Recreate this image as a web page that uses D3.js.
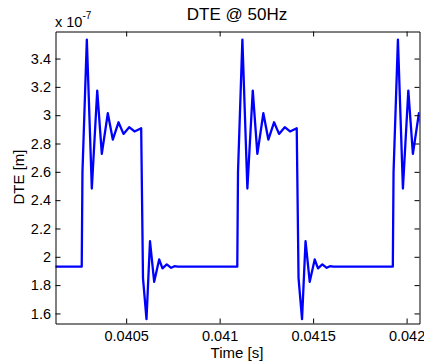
<!DOCTYPE html>
<html>
<head>
<meta charset="utf-8">
<script src="https://cdn.jsdelivr.net/npm/d3@7"></script>
<style>
  html, body { margin: 0; padding: 0; background: #fff; }
  svg { display: block; font-family: "Liberation Sans", Arial, Helvetica, sans-serif; }
</style>
</head>
<body>
<svg id="chart" width="424" height="362"></svg>
<script>
// Sample times [s] of the simulated DTE trace
const timeSec = [
  0.040100, 0.0402623, 0.0402662, 0.0402896, 0.0403163, 0.0403452, 0.0403697,
  0.0404018, 0.0404285, 0.0404590, 0.0404857, 0.0405162, 0.0405445, 0.0405803,
  0.0405900, 0.0406087, 0.0406274, 0.0406498, 0.0406765, 0.0406942, 0.0407172,
  0.0407407, 0.0407583, 0.0407759,
  0.0410943, 0.0410982, 0.0411216, 0.0411483, 0.0411772, 0.0412017, 0.0412338,
  0.0412605, 0.0412910, 0.0413177, 0.0413482, 0.0413765, 0.0414123, 0.0414220,
  0.0414407, 0.0414594, 0.0414818, 0.0415085, 0.0415262, 0.0415492, 0.0415727,
  0.0415903, 0.0416079,
  0.0419263, 0.0419302, 0.0419536, 0.0419803, 0.0420092, 0.0420337, 0.0420658,
  0.0420925
];

// DTE values in units of 1e-7 m
const dteValues = [
  1.930, 1.930, 2.600, 3.534, 2.482, 3.174, 2.727,
  3.014, 2.828, 2.950, 2.868, 2.915, 2.885, 2.908,
  1.850, 1.560, 2.110, 1.823, 1.981, 1.918, 1.946,
  1.922, 1.934, 1.930,
  1.930, 2.600, 3.534, 2.482, 3.174, 2.727, 3.014,
  2.828, 2.950, 2.868, 2.915, 2.885, 2.908, 1.850,
  1.560, 2.110, 1.823, 1.981, 1.918, 1.946, 1.922,
  1.934, 1.930,
  1.930, 2.600, 3.534, 2.482, 3.174, 2.727, 3.014,
  2.828
];

const xTicks = [0.0405, 0.041, 0.0415, 0.042];
const xTickLabels = ["0.0405", "0.041", "0.0415", "0.042"];
const yTicks = [1.6, 1.8, 2.0, 2.2, 2.4, 2.6, 2.8, 3.0, 3.2, 3.4];
const yTickLabels = ["1.6", "1.8", "2", "2.2", "2.4", "2.6", "2.8", "3", "3.2", "3.4"];
const xDomain = [0.040122, 0.042069];
const yDomain = [1.529, 3.591];

const titleText = "DTE @ 50Hz";
const xLabelText = "Time [s]";
const yLabelText = "DTE [m]";

const svg = d3.select("#chart");
const margin = { left: 55, top: 31, right: 5, bottom: 39 };
const W = 424, H = 362;
const iw = W - margin.left - margin.right;
const ih = H - margin.top - margin.bottom;

const x = d3.scaleLinear().domain(xDomain).range([0, iw]);
const y = d3.scaleLinear().domain(yDomain).range([ih, 0]);

const g = svg.append("g").attr("transform", `translate(${margin.left + 0.5},${margin.top + 0.5})`);

g.append("defs").append("clipPath").attr("id", "plotClip")
  .append("rect").attr("x", 0).attr("y", 0).attr("width", iw).attr("height", ih);

const points = timeSec.map((t, i) => [t, dteValues[i]]);
const line = d3.line().x(d => x(d[0])).y(d => y(d[1]));

g.append("path")
  .datum(points)
  .attr("clip-path", "url(#plotClip)")
  .attr("fill", "none")
  .attr("stroke", "#0000ff")
  .attr("stroke-width", 2.3)
  .attr("stroke-linejoin", "round")
  .attr("d", line);

// Axes with inward ticks on all four sides (boxed axes)
const tickLen = 5;
const styleAxis = sel => {
  sel.select(".domain").attr("stroke", "#000").attr("stroke-width", 1);
  sel.selectAll(".tick line").attr("stroke", "#000").attr("stroke-width", 1);
  sel.selectAll("text").attr("fill", "#000").attr("font-size", "14.5px")
    .attr("font-family", "'Liberation Sans', Arial, sans-serif");
};

const fmtX = d => xTickLabels[xTicks.indexOf(d)];
const fmtY = d => yTickLabels[yTicks.indexOf(d)];

g.append("g").attr("transform", `translate(0,${ih})`)
  .call(d3.axisBottom(x).tickValues(xTicks).tickFormat(fmtX)
    .tickSizeInner(-tickLen).tickSizeOuter(0).tickPadding(7.5))
  .call(styleAxis);

g.append("g")
  .call(d3.axisTop(x).tickValues(xTicks).tickFormat("")
    .tickSizeInner(-tickLen).tickSizeOuter(0))
  .call(styleAxis);

g.append("g")
  .call(d3.axisLeft(y).tickValues(yTicks).tickFormat(fmtY)
    .tickSizeInner(-tickLen).tickSizeOuter(0).tickPadding(4.5))
  .call(styleAxis);

g.append("g").attr("transform", `translate(${iw},0)`)
  .call(d3.axisRight(y).tickValues(yTicks).tickFormat("")
    .tickSizeInner(-tickLen).tickSizeOuter(0))
  .call(styleAxis);

// Exponent marker above the y axis
const expo = svg.append("text")
  .attr("x", 55).attr("y", 26.5)
  .attr("font-size", "14.5px").attr("fill", "#000");
expo.append("tspan").text("x 10");
expo.append("tspan").attr("font-size", "10px").attr("dy", -8).text("-7");

// Title
svg.append("text")
  .attr("x", margin.left + iw / 2).attr("y", 19.5)
  .attr("text-anchor", "middle").attr("font-size", "17px").attr("fill", "#000")
  .text(titleText);

// Axis labels
svg.append("text")
  .attr("x", margin.left + iw / 2).attr("y", 357.5)
  .attr("text-anchor", "middle").attr("font-size", "15px").attr("fill", "#000")
  .text(xLabelText);

svg.append("text")
  .attr("transform", `translate(24,${margin.top + ih / 2}) rotate(-90)`)
  .attr("text-anchor", "middle").attr("font-size", "15px").attr("fill", "#000")
  .text(yLabelText);
</script>
</body>
</html>
